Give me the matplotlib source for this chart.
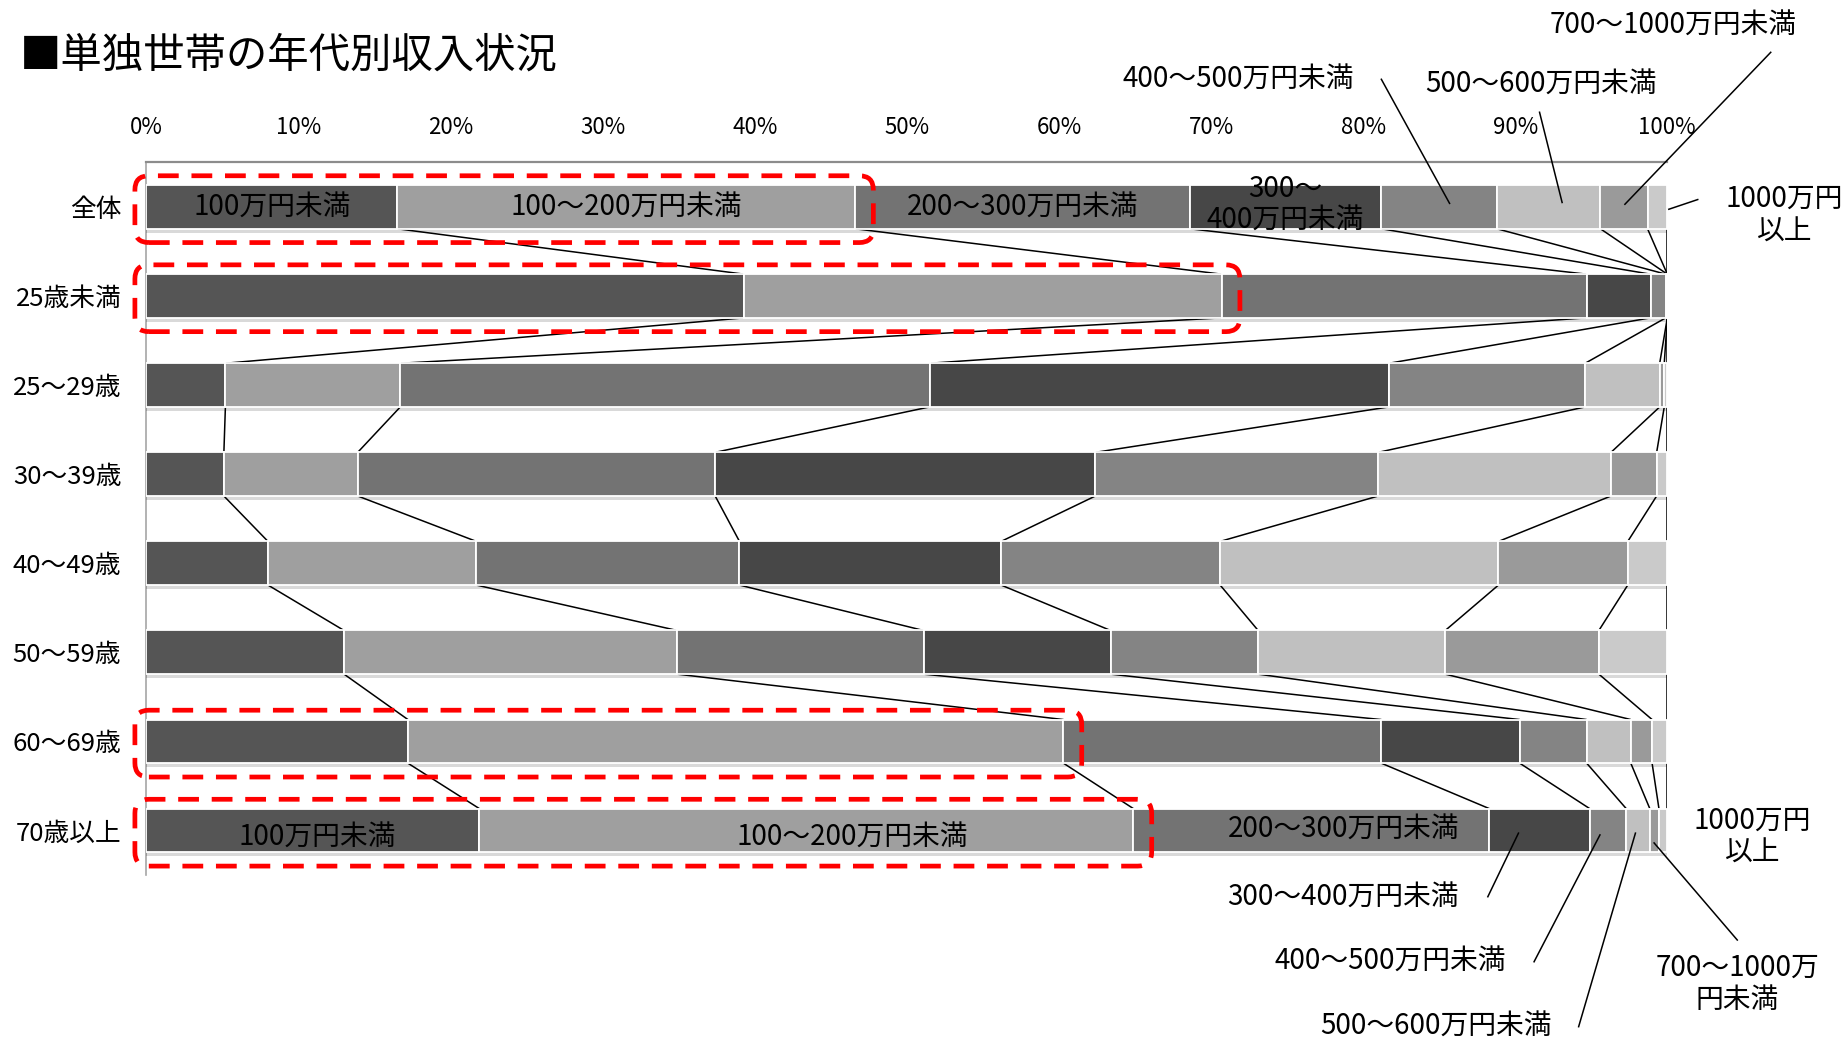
import matplotlib
matplotlib.use('Agg')
import matplotlib.pyplot as plt
import numpy as np
from matplotlib.patches import FancyBboxPatch
from matplotlib.transforms import IdentityTransform
from matplotlib import patheffects as pe

plt.rcParams['font.family'] = ['Noto Sans CJK JP', 'DejaVu Sans']

# ---------------- data ----------------
categories = ['全体', '25歳未満', '25～29歳', '30～39歳', '40～49歳',
              '50～59歳', '60～69歳', '70歳以上']
income_bands = ['100万円未満', '100～200万円未満', '200～300万円未満',
                '300～400万円未満', '400～500万円未満', '500～600万円未満',
                '700～1000万円未満', '1000万円以上']
share_total = [16.5, 30.1, 22.0, 12.6, 7.6, 6.8, 3.1, 1.3]
share_u25 = [39.3, 31.4, 24.0, 4.2, 1.0, 0.1, 0.0, 0.0]
share_25_29 = [5.2, 11.5, 34.8, 30.2, 12.9, 4.9, 0.3, 0.2]
share_30s = [5.1, 8.8, 23.5, 25.0, 18.6, 15.3, 3.0, 0.7]
share_40s = [8.0, 13.7, 17.3, 17.2, 14.4, 18.3, 8.5, 2.6]
share_50s = [13.0, 21.9, 16.2, 12.3, 9.7, 12.3, 10.1, 4.5]
share_60s = [17.2, 43.1, 20.9, 9.1, 4.4, 2.9, 1.4, 1.0]
share_70plus = [21.9, 43.0, 23.4, 6.6, 2.4, 1.55, 0.6, 0.55]
tick_values = [0, 10, 20, 30, 40, 50, 60, 70, 80, 90, 100]
tick_labels = ['0%', '10%', '20%', '30%', '40%', '50%', '60%', '70%', '80%', '90%', '100%']
title = '■単独世帯の年代別収入状況'

# ---------------- styles ----------------
colors = ['#555555', '#9f9f9f', '#737373', '#474747', '#848484',
          '#c0c0c0', '#9a9a9a', '#cacaca']
BAR_H = 0.49

shares = np.array([share_total, share_u25, share_25_29, share_30s, share_40s,
                   share_50s, share_60s, share_70plus])
cum = np.cumsum(shares, axis=1)
lefts = cum - shares
rows = np.arange(len(categories))

fig = plt.figure(figsize=(18.45, 10.45), dpi=100)
ax = fig.add_axes([0.0793, 0.16268, 0.82439, 0.68191])

shadow = [pe.SimplePatchShadow(offset=(0, -3), shadow_rgbFace='#000000', alpha=0.15),
          pe.Normal()]
for k in range(len(income_bands)):
    ax.barh(rows, shares[:, k], left=lefts[:, k], height=BAR_H,
            color=colors[k], edgecolor='white', linewidth=1.3, zorder=3,
            path_effects=shadow)

# series lines
for i in range(len(categories) - 1):
    for k in range(len(income_bands)):
        ax.plot([cum[i, k], cum[i + 1, k]],
                [rows[i] + BAR_H / 2, rows[i + 1] - BAR_H / 2],
                color='black', lw=1.1, zorder=2, solid_capstyle='butt')

ax.set_xlim(0, 100)
ax.set_ylim(len(categories) - 0.5, -0.5)
ax.xaxis.tick_top()
ax.set_xticks(tick_values)
ax.set_xticklabels(tick_labels, fontsize=16)
ax.set_yticks(rows)
ax.set_yticklabels(categories, fontsize=18.5)
ax.tick_params(axis='x', length=0, pad=17)
ax.tick_params(axis='y', length=0, pad=18)
for s in ['right', 'bottom']:
    ax.spines[s].set_visible(False)
ax.spines['top'].set_color('#8c8c8c')
ax.spines['top'].set_linewidth(1.6)
ax.spines['left'].set_color('#a6a6a6')
ax.spines['left'].set_linewidth(1.2)

fig.text(20 / 1845, 1 - 56.5 / 1045, title, fontsize=29.8, ha='left', va='center')

LBL = 20
mid = lefts + shares / 2
# labels inside 全体 row
for k in range(3):
    ax.text(mid[0, k], 0, income_bands[k], fontsize=LBL, ha='center', va='center', zorder=5)
ax.text(mid[0, 3], -0.03, '300～\n400万円未満', fontsize=LBL, ha='center', va='center',
        linespacing=1.05, zorder=5)
# labels inside 70歳以上 row
ax.text(mid[7, 0] + 0.3, 7.07, income_bands[0], fontsize=LBL, ha='center', va='center', zorder=5)
ax.text(mid[7, 1] + 3.0, 7.07, income_bands[1], fontsize=LBL, ha='center', va='center', zorder=5)
ax.text(mid[7, 2] + 2.1, 6.98, income_bands[2], fontsize=LBL, ha='center', va='center', zorder=5)

# callouts: (text, text x, text y, line start x, line start y, row, segment, fraction, anchor dy)
callouts = [
    ('400～500万円未満', 71.8, -1.443, 81.2, -1.433, 0, 4, 0.59, -0.04),
    ('500～600万円未満', 91.7, -1.388, 91.6, -1.063, 0, 5, 0.63, -0.05),
    ('700～1000万円未満', 100.4, -2.05, 106.8, -1.736, 0, 6, 0.52, -0.03),
    ('300～400万円未満', 78.7, 7.748, 88.2, 7.744, 7, 3, 0.29, 0.03),
    ('400～500万円未満', 81.8, 8.466, 91.24, 8.474, 7, 4, 0.28, 0.05),
    ('500～600万円未満', 84.8, 9.195, 94.17, 9.203, 7, 5, 0.39, 0.03),
    ('700～1000万\n円未満', 104.6, 8.724, 104.6, 8.23, 7, 6, 0.47, 0.14),
]
for txt, tx, ty, lx, ly, r, k, f, dy in callouts:
    ax.text(tx, ty, txt, fontsize=LBL, ha='center', va='center', clip_on=False,
            linespacing=1.1, zorder=5)
    ax.plot([lx, lefts[r, k] + f * shares[r, k]], [ly, r + dy], color='black', lw=1.1,
            clip_on=False, zorder=5)
# 1000万円以上 labels
ax.text(107.7, 0.093, '1000万円\n以上', fontsize=LBL, ha='center', va='center',
        clip_on=False, linespacing=1.1)
ax.plot([102.0, cum[0, 7] + 0.1], [-0.083, 0.026], color='black', lw=1.1, clip_on=False)
ax.text(105.6, 7.07, '1000万円\n以上', fontsize=LBL, ha='center', va='center',
        clip_on=False, linespacing=1.1)

# red dashed rounded frames around the first two bands (rows, last segment index)
frames = [(0, 1), (1, 1), (6, 1), (7, 1)]
for r, k in frames:
    x0, x1 = -0.75, cum[r, k] + 1.2
    p0 = ax.transData.transform((x0, r + 0.40))
    p1 = ax.transData.transform((x1, r - 0.35))
    xmin, ymin = min(p0[0], p1[0]), min(p0[1], p1[1])
    w, h = abs(p1[0] - p0[0]), abs(p1[1] - p0[1])
    patch = FancyBboxPatch((xmin, ymin), w, h,
                           boxstyle='round,pad=0,rounding_size=14',
                           transform=IdentityTransform(), fill=False,
                           edgecolor='#ff0000', linewidth=3.4,
                           linestyle=(0, (4.4, 2.7)), zorder=10)
    fig.add_artist(patch)

fig.savefig('out.png', dpi=100)
